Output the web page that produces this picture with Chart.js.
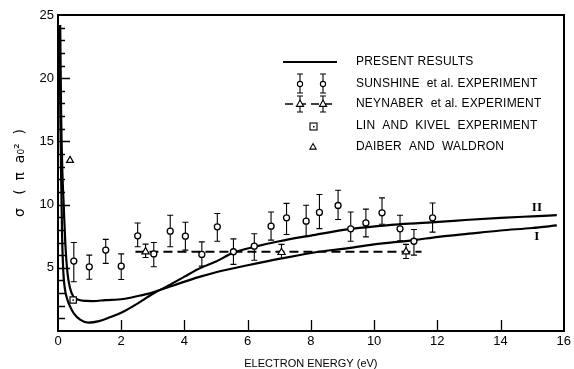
<!DOCTYPE html>
<html>
<head>
<meta charset="utf-8">
<script src="https://cdn.jsdelivr.net/npm/chart.js"></script>
<style>
  html, body { margin: 0; padding: 0; background: #fff; }
  #wrap { width: 574px; height: 369px; }
</style>
</head>
<body>
<div id="wrap"><canvas id="c" width="574" height="369"></canvas></div>
<script>
// present results, curve I (shallow minimum) and curve II (deep minimum)
const curveIE = [0.07, 0.10, 0.14, 0.18, 0.23, 0.30, 0.38, 0.48, 0.65, 0.90, 1.10, 1.50, 2.06, 2.50, 2.90, 3.30, 3.84, 4.50, 5.00, 6.00, 7.07, 8.25, 9.00, 10.00, 11.26, 12.03, 13.00, 14.00, 15.00, 15.78];
const curveISigma = [24.2, 17, 12.5, 10, 7, 4.6, 3.4, 2.75, 2.47, 2.38, 2.37, 2.44, 2.53, 2.75, 2.98, 3.3, 3.77, 4.3, 4.65, 5.2, 5.74, 6.27, 6.5, 6.85, 7.19, 7.45, 7.7, 7.95, 8.15, 8.35];
const curveIIE = [0.05, 0.07, 0.10, 0.13, 0.17, 0.22, 0.30, 0.38, 0.50, 0.70, 0.96, 1.30, 1.60, 2.00, 2.50, 3.00, 3.50, 4.00, 4.52, 5.00, 5.55, 6.21, 7.00, 8.00, 9.26, 10.82, 12.03, 13.00, 14.00, 15.00, 15.78];
const curveIISigma = [24.2, 18, 12, 7.5, 4.6, 3.3, 2.45, 1.95, 1.4, 0.9, 0.66, 0.78, 1.05, 1.45, 2.15, 2.95, 3.6, 4.3, 5.0, 5.5, 6.2, 6.66, 7.1, 7.55, 8.08, 8.45, 8.63, 8.8, 8.95, 9.07, 9.16];

// Sunshine et al. experiment
const sunshineE = [0.50, 0.99, 1.51, 2.00, 2.52, 3.03, 3.55, 4.03, 4.55, 5.04, 5.55, 6.21, 6.74, 7.23, 7.85, 8.27, 8.86, 9.26, 9.74, 10.25, 10.82, 11.26, 11.85];
const sunshineSigma = [5.53, 5.08, 6.4, 5.13, 7.53, 6.1, 7.9, 7.5, 6.06, 8.24, 6.27, 6.71, 8.29, 8.95, 8.69, 9.38, 9.93, 8.08, 8.55, 9.35, 8.08, 7.1, 8.95];
const sunshineHi = [7.0, 6.0, 7.25, 6.1, 8.55, 7.0, 9.16, 8.6, 7.05, 9.3, 7.29, 7.69, 9.42, 10.1, 9.95, 10.8, 11.14, 9.42, 9.64, 10.53, 9.16, 8.03, 10.13];
const sunshineLo = [3.9, 4.1, 5.35, 4.08, 6.66, 5.08, 6.66, 6.4, 5.13, 7.1, 5.27, 5.6, 7.19, 7.64, 7.5, 8.1, 8.82, 7.1, 7.45, 8.45, 7.13, 6.0, 7.82];

// Neynaber et al. experiment
const neynaberE = [2.77, 7.07, 11.01];
const neynaberSigma = [6.27, 6.22, 6.27];
const neynaberHi = [6.87, 6.85, 6.85];
const neynaberLo = [5.82, 5.74, 5.74];
const neynaberLineE = [2.45, 11.5];
const neynaberLineSigma = [6.27, 6.27];

// Lin and Kivel, Daiber and Waldron
const linKivelE = [0.48];
const linKivelSigma = [2.45];
const daiberE = [0.38];
const daiberSigma = [13.5];

const curveLabels = ['II', 'I'];
const curveLabelE = [15.15, 15.15];
const curveLabelSigma = [9.74, 7.45];

const legendLabels = [
  'PRESENT RESULTS',
  'SUNSHINE  et al. EXPERIMENT',
  'NEYNABER  et al. EXPERIMENT',
  'LIN  AND  KIVEL  EXPERIMENT',
  'DAIBER  AND  WALDRON'
];

const ink = '#000';
const pts = (xs, ys) => xs.map((x, i) => ({ x, y: ys[i] }));

function tri(ctx, x, y, r) {
  ctx.beginPath();
  ctx.moveTo(x, y - r);
  ctx.lineTo(x + r * 0.9, y + r * 0.6);
  ctx.lineTo(x - r * 0.9, y + r * 0.6);
  ctx.closePath();
  ctx.fillStyle = '#fff';
  ctx.fill();
  ctx.stroke();
}
function circ(ctx, x, y, r) {
  ctx.beginPath();
  ctx.arc(x, y, r, 0, Math.PI * 2);
  ctx.fillStyle = '#fff';
  ctx.fill();
  ctx.stroke();
}
function bar(ctx, x, top, bot, cap) {
  ctx.beginPath();
  ctx.moveTo(x, top); ctx.lineTo(x, bot);
  ctx.moveTo(x - cap, top); ctx.lineTo(x + cap, top);
  ctx.moveTo(x - cap, bot); ctx.lineTo(x + cap, bot);
  ctx.stroke();
}

const errorBars = {
  id: 'errorBars',
  beforeDatasetsDraw(chart) {
    const { ctx, scales: { x, y } } = chart;
    ctx.save();
    ctx.strokeStyle = ink;
    ctx.lineWidth = 1.1;
    sunshineE.forEach((e, i) => {
      bar(ctx, x.getPixelForValue(e), y.getPixelForValue(sunshineHi[i]), y.getPixelForValue(sunshineLo[i]), 3);
    });
    neynaberE.forEach((e, i) => {
      bar(ctx, x.getPixelForValue(e), y.getPixelForValue(neynaberHi[i]), y.getPixelForValue(neynaberLo[i]), 3);
    });
    ctx.restore();
  }
};

// frame, inward ticks, curve labels and the legend box
const frameAndLegend = {
  id: 'frameAndLegend',
  afterDraw(chart) {
    const { ctx, chartArea: a, scales: { x, y } } = chart;
    ctx.save();
    ctx.fillStyle = ink;
    ctx.strokeStyle = ink;

    ctx.lineWidth = 2;
    ctx.strokeRect(Math.round(a.left), Math.round(a.top), Math.round(a.right - a.left), Math.round(a.bottom - a.top));

    ctx.lineWidth = 1.3;
    ctx.beginPath();
    for (let v = 1; v < 25; v++) {
      const py = Math.round(y.getPixelForValue(v)) + 0.5;
      ctx.moveTo(a.left, py);
      ctx.lineTo(a.left + (v % 5 === 0 ? 12 : 7), py);
    }
    for (let v = 2; v < 16; v += 2) {
      const px = Math.round(x.getPixelForValue(v)) + 0.5;
      ctx.moveTo(px, a.bottom);
      ctx.lineTo(px, a.bottom - 11);
    }
    ctx.stroke();

    // curve labels
    ctx.font = 'bold 13px "Liberation Serif"';
    ctx.textAlign = 'center';
    ctx.textBaseline = 'middle';
    curveLabels.forEach((s, i) => {
      ctx.fillText(s, x.getPixelForValue(curveLabelE[i]), y.getPixelForValue(curveLabelSigma[i]));
    });

    // legend
    const sx = a.left + 255, tx = a.left + 298;
    const rows = [47, 69, 89, 111, 132].map(v => a.top + v);
    ctx.font = '12px "Liberation Sans"';
    ctx.textAlign = 'left';
    ctx.letterSpacing = '0.2px';
    legendLabels.forEach((s, i) => ctx.fillText(s, tx, rows[i]));
    ctx.letterSpacing = '0px';

    ctx.lineWidth = 2;
    ctx.beginPath();
    ctx.moveTo(sx - 30, rows[0]); ctx.lineTo(sx + 24, rows[0]);
    ctx.stroke();

    ctx.lineWidth = 1.1;
    [sx - 13, sx + 10].forEach(px => {
      bar(ctx, px, rows[1] - 10, rows[1] + 9, 3);
      circ(ctx, px, rows[1], 2.6);
    });

    ctx.lineWidth = 1.6;
    ctx.setLineDash([8, 5]);
    ctx.beginPath();
    ctx.moveTo(sx - 28, rows[2]); ctx.lineTo(sx + 24, rows[2]);
    ctx.stroke();
    ctx.setLineDash([]);
    ctx.lineWidth = 1.1;
    [sx - 13, sx + 10].forEach(px => {
      bar(ctx, px, rows[2] - 8, rows[2] + 8, 3);
      tri(ctx, px, rows[2], 4);
    });

    ctx.strokeRect(sx - 3, rows[3] - 3, 7, 7);
    ctx.fillStyle = ink;
    ctx.fillRect(sx, rows[3], 1.5, 1.5);
    tri(ctx, sx, rows[4], 3.5);
    ctx.restore();
  }
};

new Chart(document.getElementById('c'), {
  type: 'scatter',
  data: {
    datasets: [
      {
        data: pts(linKivelE, linKivelSigma),
        pointStyle: 'circle', pointRadius: 0.9, pointBackgroundColor: ink, pointBorderWidth: 0
      },
      {
        data: pts(linKivelE, linKivelSigma),
        pointStyle: 'rect', pointRadius: 4.5, pointBackgroundColor: '#fff', pointBorderColor: ink, pointBorderWidth: 1.2
      },
      {
        data: pts(daiberE, daiberSigma),
        pointStyle: 'triangle', pointRadius: 4, pointBackgroundColor: '#fff', pointBorderColor: ink, pointBorderWidth: 1.2
      },
      {
        data: pts(sunshineE, sunshineSigma),
        pointStyle: 'circle', pointRadius: 3, pointBackgroundColor: '#fff', pointBorderColor: ink, pointBorderWidth: 1.3
      },
      {
        data: pts(neynaberE, neynaberSigma),
        pointStyle: 'triangle', pointRadius: 4.2, pointBackgroundColor: '#fff', pointBorderColor: ink, pointBorderWidth: 1.2
      },
      {
        data: pts(neynaberLineE, neynaberLineSigma),
        showLine: true, pointRadius: 0, borderColor: ink, borderWidth: 1.8, borderDash: [9, 5]
      },
      {
        data: pts(curveIE, curveISigma),
        showLine: true, pointRadius: 0, borderColor: ink, borderWidth: 2.2, cubicInterpolationMode: 'monotone'
      },
      {
        data: pts(curveIIE, curveIISigma),
        showLine: true, pointRadius: 0, borderColor: ink, borderWidth: 2.2, cubicInterpolationMode: 'monotone'
      }
    ]
  },
  options: {
    responsive: false,
    animation: false,
    devicePixelRatio: 1,
    layout: { padding: { top: 15, right: 6, left: 0, bottom: 0 } },
    plugins: { legend: { display: false }, tooltip: { enabled: false } },
    scales: {
      x: {
        type: 'linear', min: 0, max: 16,
        grid: { display: false, drawTicks: false }, border: { display: false },
        ticks: { stepSize: 2, color: ink, font: { family: 'Liberation Sans', size: 13 }, padding: 3, maxRotation: 0 },
        title: { display: true, text: 'ELECTRON ENERGY (eV)', color: ink, font: { family: 'Liberation Sans', size: 11, lineHeight: 1 }, padding: 0 },
        afterFit: s => { s.height = 38; }
      },
      y: {
        type: 'linear', min: 0, max: 25,
        grid: { display: false, drawTicks: false }, border: { display: false },
        ticks: {
          stepSize: 1, autoSkip: false, color: ink, padding: 4,
          font: { family: 'Liberation Sans', size: 13 },
          callback: v => (v % 5 === 0 && v > 0 ? v : '')
        },
        title: { display: true, text: 'σ   (  π  a₀²  )', color: ink, font: { family: 'DejaVu Sans', size: 14 }, padding: { top: 12 } },
        afterFit: s => { s.width = 58; }
      }
    }
  },
  plugins: [errorBars, frameAndLegend]
});
</script>
</body>
</html>
